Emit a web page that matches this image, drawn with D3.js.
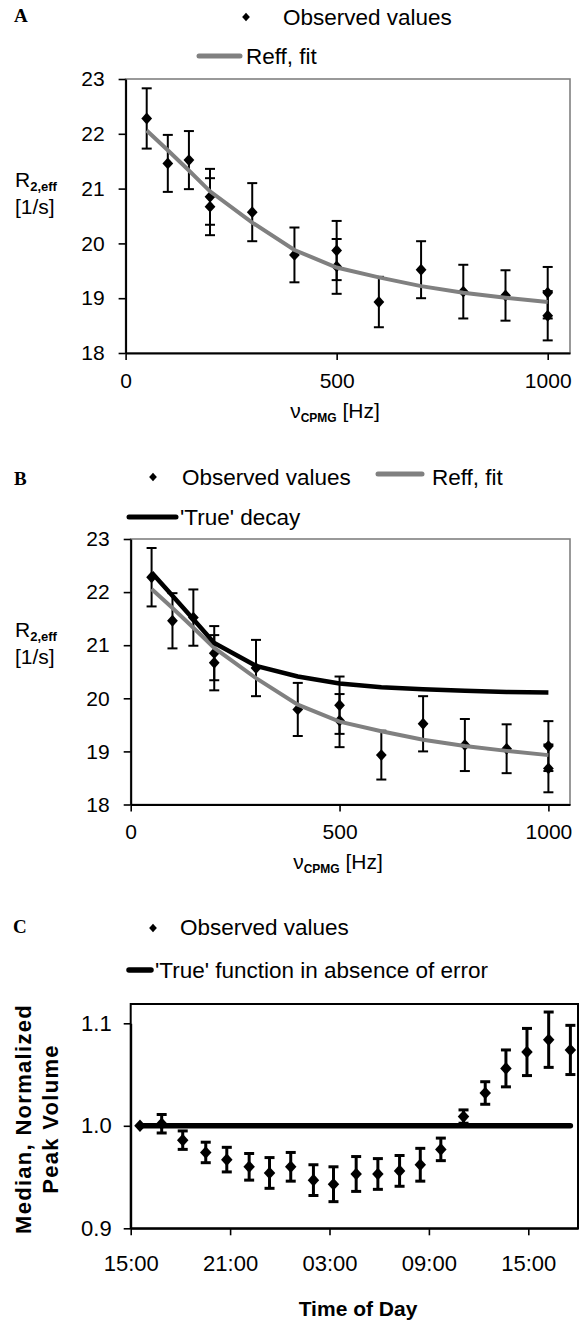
<!DOCTYPE html>
<html><head><meta charset="utf-8">
<script src="https://cdn.jsdelivr.net/npm/d3@7"></script>
<style>
body{margin:0;background:#fff;}
svg text{font-family:"Liberation Sans",Arial,Helvetica,sans-serif;fill:#000;}
</style>
</head><body>
<script>
// ---------- data (panels A and B share observed values) ----------
const freqObs = [50,100,150,200,200,300,400,500,500,600,700,800,900,1000,1000];
const r2Obs   = [22.28,21.46,21.52,20.85,20.67,20.57,19.79,19.87,19.58,18.93,19.52,19.12,19.05,19.10,18.68];
const r2Err   = [0.55,0.52,0.53,0.51,0.52,0.53,0.50,0.54,0.50,0.46,0.52,0.49,0.46,0.47,0.45];
const freqCurve = [50,100,150,200,300,400,500,600,700,800,900,1000];
const r2Fit     = [22.06,21.70,21.33,20.95,20.38,19.88,19.56,19.38,19.22,19.10,19.01,18.93];
const r2True    = [22.37,21.93,21.49,21.04,20.61,20.41,20.28,20.21,20.17,20.14,20.12,20.11];
const r2Ticks   = [18,19,20,21,22,23];
const freqTicks = [0,500,1000];

// ---------- data panel C (hours after 15:00) ----------
const hoursC = [0.56,1.87,3.14,4.53,5.80,7.15,8.38,9.66,11.03,12.24,13.61,14.92,16.23,17.48,18.72,20.09,21.40,22.65,23.92,25.23,26.54];
const volC   = [1.000,1.002,0.986,0.974,0.967,0.960,0.954,0.960,0.947,0.943,0.953,0.953,0.956,0.962,0.977,1.009,1.032,1.056,1.072,1.084,1.074];
const errC   = [0,0.009,0.009,0.010,0.012,0.013,0.015,0.014,0.015,0.017,0.017,0.015,0.015,0.016,0.011,0.0065,0.011,0.018,0.023,0.027,0.024];
const trueHoursC = [0.56,26.54];
const trueVolC   = [1.0,1.0];
const timeTicks  = [0,6,12,18,24];
const timeLabels = ["15:00","21:00","03:00","09:00","15:00"];
const volTicks   = [0.9,1.0,1.1];

const W = 586, H = 1324;
const svg = d3.select("body").append("svg").attr("width",W).attr("height",H);
svg.append("rect").attr("width",W).attr("height",H).attr("fill","#fff");

const diamondType = {
  draw(ctx, size){
    const r = Math.sqrt(size/2);
    ctx.moveTo(0,-r*1.1); ctx.lineTo(r,0); ctx.lineTo(0,r*1.1); ctx.lineTo(-r,0); ctx.closePath();
  }
};
const diamond = (s)=>d3.symbol().type(diamondType).size(s)();

function styleAxis(sel, fs){
  sel.select(".domain").attr("stroke","#000").attr("stroke-width",2);
  sel.selectAll(".tick line").attr("stroke","#000").attr("stroke-width",1.6);
  sel.selectAll(".tick text").attr("font-size",fs).attr("fill","#000")
     .attr("font-family","'Liberation Sans',Arial,sans-serif");
}

function errorBars(g, xs, ys, es, x, y, capW, sw){
  const gg = g.append("g").attr("stroke","#000").attr("stroke-width",sw).attr("fill","none");
  xs.forEach((xv,i)=>{
    if(es[i]<=0) return;
    const px = x(xv), t = y(ys[i]+es[i]), b = y(ys[i]-es[i]);
    gg.append("line").attr("x1",px).attr("x2",px).attr("y1",t).attr("y2",b);
    gg.append("line").attr("x1",px-capW/2).attr("x2",px+capW/2).attr("y1",t).attr("y2",t);
    gg.append("line").attr("x1",px-capW/2).attr("x2",px+capW/2).attr("y1",b).attr("y2",b);
  });
}

function markers(g, xs, ys, x, y, size){
  g.append("g").selectAll("path").data(xs).join("path")
    .attr("d",diamond(size))
    .attr("transform",(d,i)=>`translate(${x(d)},${y(ys[i])})`)
    .attr("fill","#000");
}

function r2Panel(cfg){
  const g = svg.append("g");
  const x = d3.scaleLinear().domain([0,cfg.xMax]).range([cfg.left,cfg.right]);
  const y = d3.scaleLinear().domain([18,23]).range([cfg.bottom,cfg.top]);
  g.append("rect").attr("x",cfg.left).attr("y",cfg.top)
    .attr("width",cfg.right-cfg.left).attr("height",cfg.bottom-cfg.top)
    .attr("fill","none").attr("stroke","#808080").attr("stroke-width",1.6);
  const line = d3.line().x((d,i)=>x(freqCurve[i])).y(d=>y(d));
  errorBars(g, freqObs, r2Obs, r2Err, x, y, 10, 2);
  markers(g, freqObs, r2Obs, x, y, 58);
  g.append("path").datum(r2Fit).attr("d",line).attr("fill","none")
    .attr("stroke","#808080").attr("stroke-width",4);
  if(cfg.showTrue){
    g.append("path").datum(r2True).attr("d",line).attr("fill","none")
      .attr("stroke","#000").attr("stroke-width",4.5);
  }
  g.append("g").attr("transform",`translate(${cfg.left},0)`)
    .call(d3.axisLeft(y).tickValues(r2Ticks).tickSize(7).tickSizeOuter(0).tickPadding(14).tickFormat(d3.format("d")))
    .call(s=>styleAxis(s,21));
  g.append("g").attr("transform",`translate(0,${cfg.bottom})`)
    .call(d3.axisBottom(x).tickValues(freqTicks).tickSize(7).tickSizeOuter(0).tickPadding(13).tickFormat(d3.format("d")))
    .call(s=>styleAxis(s,21));
  const yl = g.append("text").attr("x",15).attr("y",cfg.ylab).attr("font-size",21);
  yl.append("tspan").text("R");
  yl.append("tspan").text("2,eff").attr("font-size",13).attr("font-weight","bold").attr("dy",4);
  g.append("text").attr("x",15).attr("y",cfg.ylab+27).attr("font-size",21).text("[1/s]");
  const xl = g.append("text").attr("x",cfg.xlabX).attr("y",cfg.xlab).attr("font-size",21).attr("text-anchor","middle");
  xl.append("tspan").text("ν");
  xl.append("tspan").text("CPMG").attr("font-size",12).attr("font-weight","bold").attr("dy",4);
  xl.append("tspan").text(" [Hz]").attr("dy",-4);
  return {g,x,y};
}

function letter(t,x,y){
  svg.append("text").attr("x",x).attr("y",y).attr("font-size",19).attr("font-weight","bold")
    .style("font-family","'Liberation Serif','Times New Roman',serif").text(t);
}
function legDiamond(x,y){
  svg.append("path").attr("d",diamond(30)).attr("transform",`translate(${x},${y})`).attr("fill","#000");
}
function legLine(x1,x2,y,color,sw){
  svg.append("line").attr("x1",x1).attr("x2",x2).attr("y1",y).attr("y2",y)
    .attr("stroke",color).attr("stroke-width",sw).attr("stroke-linecap","round");
}
function legText(t,x,y){
  svg.append("text").attr("x",x).attr("y",y).attr("font-size",22.5).text(t);
}

// ---------- Panel A ----------
letter("A",14,22);
legDiamond(246,17); legText("Observed values",283,25);
legLine(199,240,56,"#808080",5); legText("Reff, fit",246,64);
r2Panel({left:125.6,right:570,top:79,bottom:353,xMax:1052.8,showTrue:false,ylab:187,xlab:418,xlabX:335});

// ---------- Panel B ----------
letter("B",14,485);
legDiamond(153,477); legText("Observed values",182,485);
legLine(378,422,474,"#808080",5); legText("Reff, fit",432,485);
legLine(129,176,517,"#000",5); legText("'True' decay",180,525);
r2Panel({left:130.7,right:570,top:539,bottom:804.5,xMax:1051.7,showTrue:true,ylab:637,xlab:869,xlabX:338});

// ---------- Panel C ----------
letter("C",13,933);
legDiamond(153,928); legText("Observed values",180,935);
legLine(129,151,970,"#000",5.5); legText("'True' function in absence of error",155,978);
{
  const left=130.7,right=578,top=1004,bottom=1228.3;
  const g = svg.append("g");
  const x = d3.scaleLinear().domain([0,27]).range([left,right]);
  const y = d3.scaleLinear().domain([0.9,1.1]).range([bottom,1023.3]);
  g.append("rect").attr("x",left).attr("y",top).attr("width",right-left).attr("height",bottom-top)
    .attr("fill","none").attr("stroke","#000").attr("stroke-width",2);
  g.append("path").datum(trueVolC)
    .attr("d",d3.line().x((d,i)=>x(trueHoursC[i])).y(d=>y(d)))
    .attr("fill","none").attr("stroke","#000").attr("stroke-width",5.5).attr("stroke-linecap","round");
  errorBars(g, hoursC, volC, errC, x, y, 10, 3);
  markers(g, hoursC, volC, x, y, 66);
  g.append("g").attr("transform",`translate(${left},0)`)
    .call(d3.axisLeft(y).tickValues(volTicks).tickSize(7).tickSizeOuter(0).tickPadding(12).tickFormat(d3.format(".1f")))
    .call(s=>styleAxis(s,22));
  g.append("g").attr("transform",`translate(0,${bottom})`)
    .call(d3.axisBottom(x).tickValues(timeTicks).tickSize(7).tickSizeOuter(0).tickPadding(20).tickFormat((d,i)=>timeLabels[i]))
    .call(s=>styleAxis(s,22));
  g.append("text").attr("transform","translate(31,1119) rotate(-90)").attr("text-anchor","middle")
    .attr("font-size",22).attr("font-weight","bold").attr("letter-spacing",1.3).text("Median, Normalized");
  g.append("text").attr("transform","translate(58,1119) rotate(-90)").attr("text-anchor","middle")
    .attr("font-size",22).attr("font-weight","bold").attr("letter-spacing",1.3).text("Peak Volume");
  g.append("text").attr("x",358).attr("y",1316).attr("text-anchor","middle")
    .attr("font-size",21).attr("font-weight","bold").text("Time of Day");
}
</script>
</body></html>
